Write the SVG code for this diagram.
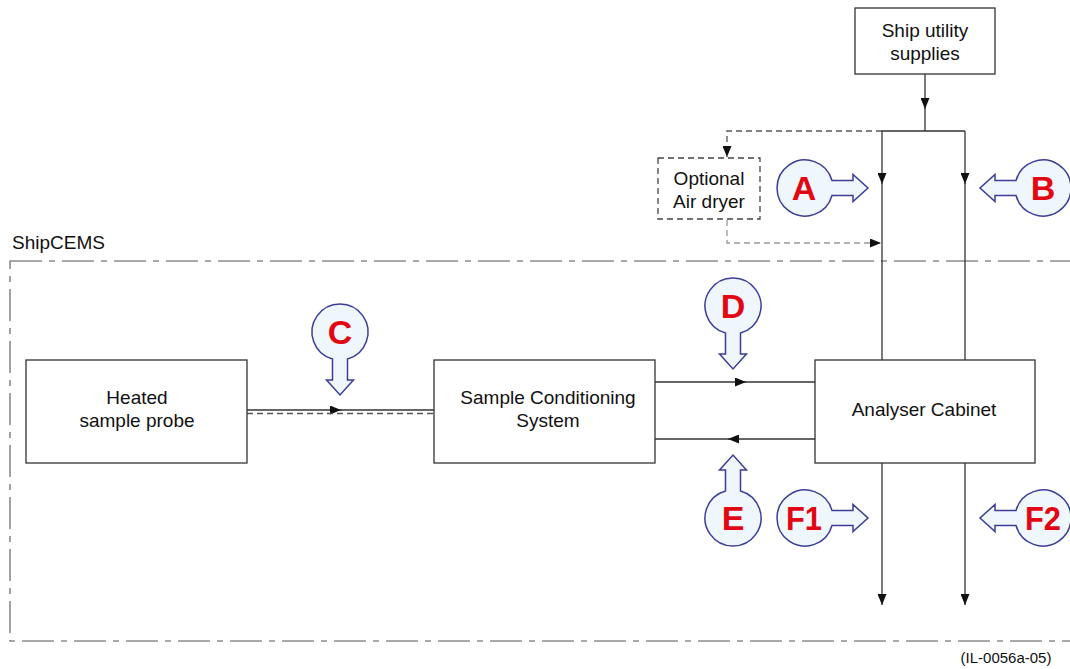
<svg xmlns="http://www.w3.org/2000/svg" width="1070" height="669" viewBox="0 0 1070 669">
<style>
.box{fill:#fff;stroke:#333;stroke-width:1.3}
.dbox{fill:#fff;stroke:#444;stroke-width:1.3;stroke-dasharray:6 4}
.ln{fill:none;stroke:#333;stroke-width:1.3}
.dl{fill:none;stroke:#555;stroke-width:1.3;stroke-dasharray:6 4}
.dl2{fill:none;stroke:#999;stroke-width:1.3;stroke-dasharray:6 4}
.t{font-family:"Liberation Sans",Arial,sans-serif;font-size:19px;fill:#111;text-anchor:middle}
.co{fill:#eff7fd;stroke:#3d3d98;stroke-width:1.5}
.cl{font-family:"Liberation Sans",Arial,sans-serif;font-size:34px;font-weight:bold;fill:#e30613;text-anchor:middle}
.frame{fill:none;stroke:#555;stroke-width:1.1;stroke-dasharray:32 7 6 7}
</style>
<defs>
<marker id="ah" viewBox="0 0 10 10" refX="10" refY="5" markerWidth="11" markerHeight="9" markerUnits="userSpaceOnUse" orient="auto" preserveAspectRatio="none">
<path d="M0,0 L10,5 L0,10 Z" fill="#111"/>
</marker>
<path id="call" d="M27,-7.5 L48,-7.5 L48,-13.5 L63,0 L48,13.5 L48,7.5 L27,7.5 A28,28 0 1 1 27,-7.5 Z"/>
</defs>

<rect class="frame" x="10" y="261" width="1080" height="380"/>
<text x="12" y="249" font-family="'Liberation Sans',Arial,sans-serif" font-size="19" fill="#111">ShipCEMS</text>

<g id="connectors">
<path class="ln" d="M925,74 V109" marker-end="url(#ah)"/>
<path class="ln" d="M925,108 V131 M882,131 H965"/>
<path class="dl" d="M882,131 H727 V157" marker-end="url(#ah)"/>
<path class="dl2" d="M727,220 V243 H881" marker-end="url(#ah)"/>
<path class="ln" d="M882,131 V184" marker-end="url(#ah)"/>
<path class="ln" d="M882,183 V360"/>
<path class="ln" d="M965,131 V184" marker-end="url(#ah)"/>
<path class="ln" d="M965,183 V360"/>
<path class="ln" d="M247,410 H341" marker-end="url(#ah)"/>
<path class="ln" d="M340,410 H434"/>
<path class="dl" d="M247,413.5 H434"/>
<path class="ln" d="M655,382 H746" marker-end="url(#ah)"/>
<path class="ln" d="M745,382 H815"/>
<path class="ln" d="M815,439 H728" marker-end="url(#ah)"/>
<path class="ln" d="M729,439 H655"/>
<path class="ln" d="M882,463 V605" marker-end="url(#ah)"/>
<path class="ln" d="M965,463 V605" marker-end="url(#ah)"/>
</g>

<g id="ship-utility">
<rect class="box" x="855" y="8" width="140" height="66"/>
<text class="t" x="925" y="37">Ship utility</text>
<text class="t" x="925" y="60">supplies</text>
</g>
<g id="air-dryer">
<rect class="dbox" x="658" y="158" width="102" height="61"/>
<text class="t" x="709" y="185">Optional</text>
<text class="t" x="709" y="208">Air dryer</text>
</g>
<g id="probe">
<rect class="box" x="26" y="360" width="221" height="103"/>
<text class="t" x="137" y="404">Heated</text>
<text class="t" x="137" y="427">sample probe</text>
</g>
<g id="scs">
<rect class="box" x="434" y="360" width="221" height="103"/>
<text class="t" x="548" y="404">Sample Conditioning</text>
<text class="t" x="548" y="427">System</text>
</g>
<g id="analyser">
<rect class="box" x="815" y="360" width="220" height="103"/>
<text class="t" x="924" y="416">Analyser Cabinet</text>
</g>

<g id="callout-A"><use href="#call" class="co" transform="translate(805,188)"/><text class="cl" x="804" y="200">A</text></g>
<g id="callout-B"><use href="#call" class="co" transform="translate(1043,188) rotate(180)"/><text class="cl" x="1043" y="200">B</text></g>
<g id="callout-C"><use href="#call" class="co" transform="translate(340,332) rotate(90)"/><text class="cl" x="340" y="344">C</text></g>
<g id="callout-D"><use href="#call" class="co" transform="translate(733,306) rotate(90)"/><text class="cl" x="733" y="318">D</text></g>
<g id="callout-E"><use href="#call" class="co" transform="translate(733,518) rotate(-90)"/><text class="cl" x="733" y="530">E</text></g>
<g id="callout-F1"><use href="#call" class="co" transform="translate(805,518)"/><text class="cl" x="804" y="530" textLength="36" lengthAdjust="spacingAndGlyphs">F1</text></g>
<g id="callout-F2"><use href="#call" class="co" transform="translate(1043,518) rotate(180)"/><text class="cl" x="1043" y="530" textLength="36" lengthAdjust="spacingAndGlyphs">F2</text></g>

<text x="1006" y="663" font-family="'Liberation Sans',Arial,sans-serif" font-size="15" fill="#111" text-anchor="middle">(IL-0056a-05)</text>
</svg>
